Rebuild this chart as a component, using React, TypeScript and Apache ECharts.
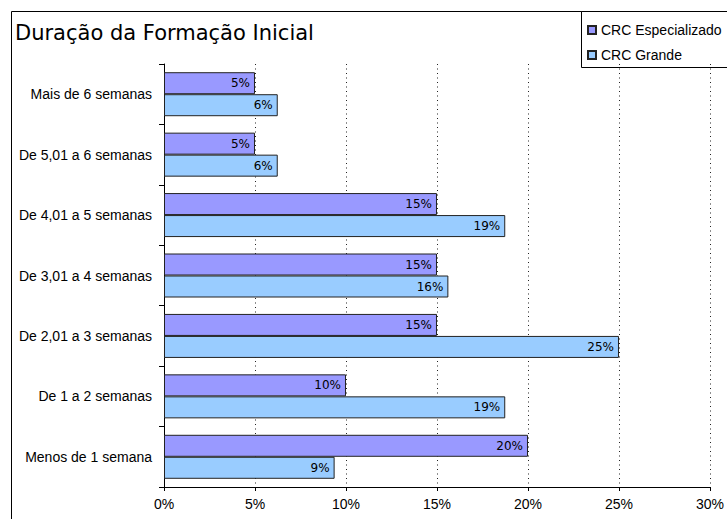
import React, { useEffect, useRef } from "react";
import * as echarts from "echarts";

const categories = [
  "Menos de 1 semana",
  "De 1 a 2 semanas",
  "De 2,01 a 3 semanas",
  "De 3,01 a 4 semanas",
  "De 4,01 a 5 semanas",
  "De 5,01 a 6 semanas",
  "Mais de 6 semanas",
];
const especializado = [20, 10, 15, 15, 15, 5, 5];
const grande = [9.375, 18.75, 25, 15.625, 18.75, 6.25, 6.25];
const xTicks = [0, 5, 10, 15, 20, 25, 30];
const titleText = "Duração da Formação Inicial";
const seriesNames = ["CRC Especializado", "CRC Grande"];

export default function App() {
  const ref = useRef<HTMLDivElement>(null);
  useEffect(() => {
    document.body.style.margin = "0";
    const chart = echarts.init(ref.current!, null, { renderer: "svg" });
    const label = {
      show: true,
      position: "insideRight" as const,
      distance: 5,
      color: "#000",
      fontFamily: "DejaVu Sans",
      fontSize: 12,
      formatter: (p: any) => Math.round(p.value) + "%",
    };
    chart.setOption({
      animation: false,
      backgroundColor: "#fff",
      grid: { left: 164, right: 16, top: 64, bottom: 32, containLabel: false },
      graphic: [
        {
          type: "rect",
          shape: { x: 11.5, y: 11.5, width: 800, height: 600 },
          style: { fill: "none", stroke: "#000", lineWidth: 1 },
          silent: true,
        },
        {
          type: "rect",
          shape: { x: 581.5, y: 11.5, width: 200, height: 56 },
          style: { fill: "#fff", stroke: "#000", lineWidth: 1 },
          silent: true,
          z: 0,
        },
        {
          type: "text",
          x: 15,
          y: 33,
          style: {
            text: titleText,
            font: "21px 'DejaVu Sans'",
            fill: "#000",
            textVerticalAlign: "middle",
          },
        },
      ],
      legend: {
        data: seriesNames,
        orient: "vertical",
        left: 587,
        top: 23,
        padding: 0,
        itemWidth: 8,
        itemHeight: 8,
        itemGap: 11,
        icon: "rect",
        z: 10,
        textStyle: {
          fontFamily: "Liberation Sans",
          fontSize: 14,
          lineHeight: 14,
          color: "#000",
          padding: [0, 0, 0, 0],
        },
      },
      xAxis: {
        type: "value",
        min: 0,
        max: 30,
        interval: 5,
        axisLine: { show: true, lineStyle: { color: "#000", width: 1 } },
        axisTick: { show: true, length: 4, lineStyle: { color: "#000" } },
        axisLabel: {
          formatter: (v: number) => (xTicks.includes(v) ? v + "%" : ""),
          fontFamily: "Liberation Sans",
          fontSize: 14,
          color: "#000",
          margin: 10,
        },
        splitLine: {
          show: true,
          lineStyle: { color: "#222", type: [1, 3.5], width: 1 },
        },
      },
      yAxis: {
        type: "category",
        data: categories,
        axisLine: { show: true, lineStyle: { color: "#000", width: 1 } },
        axisTick: { show: true, length: 5, lineStyle: { color: "#000" } },
        axisLabel: {
          fontFamily: "Liberation Sans",
          fontSize: 14,
          color: "#000",
          margin: 12,
        },
        splitLine: { show: false },
      },
      series: [
        {
          name: seriesNames[0],
          type: "bar",
          data: especializado,
          barWidth: 22,
          barGap: "0%",
          itemStyle: { color: "#9999FF", borderColor: "#222", borderWidth: 1 },
          label,
        },
        {
          name: seriesNames[1],
          type: "bar",
          data: grande,
          barWidth: 22,
          barGap: "0%",
          itemStyle: { color: "#99CCFF", borderColor: "#222", borderWidth: 1 },
          label,
        },
      ],
    });
    return () => chart.dispose();
  }, []);
  return <div ref={ref} style={{ width: 727, height: 519 }} />;
}
